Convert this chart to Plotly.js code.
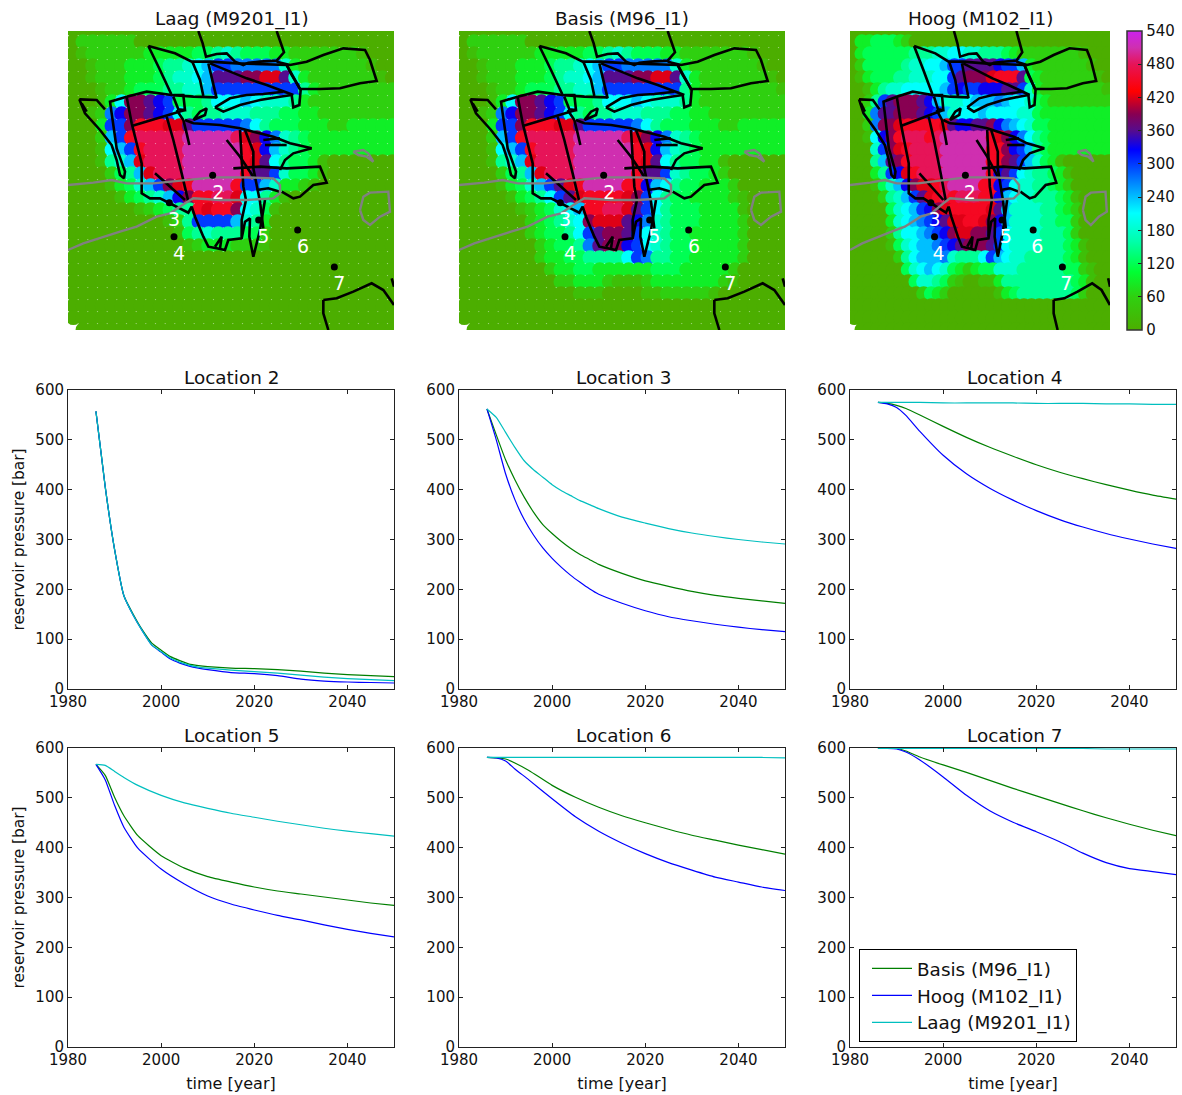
<!DOCTYPE html>
<html>
<head>
<meta charset="utf-8">
<script src="https://cdn.plot.ly/plotly-3.0.1.min.js"></script>
<style>html,body{margin:0;padding:0;background:#fff}</style>
</head>
<body>
<div id="chart" style="width:1182px;height:1095px"></div>
<script>
// ---------- map data: one character per cell, value = digit (base 36) * pressureStep bar ----------
const pressureStep = 30;
const gridCols = [40,69,98,127,156,185,214,243,272,301,330,359,388,417,446,475,504,533,562,591,620,649,678,707,736,765,794,823,852,881,910,939,968,997];
const gridRows = [29,65,101,137,173,209,245,281,317,353,389,425,461,497,533,569,605,641,677,713,749,785,821,857,893,929];

const pressureLaag = [
"0000000000000000000000000000000000",
"0222222000000000000000000000000000",
"0122222233333445654443322222221000",
"0012223334556 78aa9999963222222 2100".split(" ").join(""),
"0012223334566 78cccddeec6322222 2210".split(" ").join(""),
"0001223444556 68aaaaaaaaa5322222 2221".split(" ").join(""),
"000137ddcba444577787666532 22222222".split(" ").join(""),
"00129bddcba75455666555 44332222 2222".split(" ").join(""),
"0003aadfffeecaaaaa97 5444333223 3333".split(" ").join(""),
"00028afggggghhhhhged b965433333 3333".split(" ").join(""),
"000178afgggghhhhhhfe b865433333 3333".split(" ").join(""),
"0001568egggghhhhhhfe c754431000 0000".split(" ").join(""),
"00002458eggghhhhhhfc ca64431000 0000".split(" ").join(""),
"000013468adefhhhhfaa 8633210000 0000".split(" ").join(""),
"00000134568bdffgge77 5310000000 0000".split(" ").join(""),
"0000000123455feffd76 4100000000 0000".split(" ").join(""),
"0000000000125aaaa865 3000000000 0000".split(" ").join(""),
"00000000000145655544 2000000000 0000".split(" ").join(""),
"00000000000012333222 1000000000 0000".split(" ").join(""),
"0000000000000000000000000000000000",
"0000000000000000000000000000000000",
"0000000000000000000000000000000000",
"0000000000000000000000000000000000",
"0000000000000000000000000000000000",
"0000000000000000000000000000000000",
".000000000000000000000000000000000"
];

const pressureBasis = [
"0000000000000000000000000000000000",
"0222222000000000000000000000000000",
"0122222233333445654443322222221000",
"001222333455678aa999 9963222222 2100".split(" ").join(""),
"001222333456678cccdd eec6322222 2210".split(" ").join(""),
"000122344455668aaaaa aaa5322222 2221".split(" ").join(""),
"000137ddcba444577787 6665322222 2222".split(" ").join(""),
"00129bddcba754556665 5544332222 2222".split(" ").join(""),
"0003aadfffeecaaaaa97 5444333223 3333".split(" ").join(""),
"00028afggggghhhhhged b965433333 3333".split(" ").join(""),
"000178afgggghhhhhhfe b865433333 3333".split(" ").join(""),
"0001568egggghhhhhhfe c754433100 0000".split(" ").join(""),
"00002458eggghhhhhhfc ca65443200 0000".split(" ").join(""),
"000013468acefhhhhffb 8754433320 0000".split(" ").join(""),
"0000013457aceffffeda 7544333321 0000".split(" ").join(""),
"0000001234678ffggeca 7544433331 0000".split(" ").join(""),
"0000000234567deeecb9 6544433332 0000".split(" ").join(""),
"0000000234457acddca7 6544333332 0000".split(" ").join(""),
"00000000234459cddba7 6544333332 0000".split(" ").join(""),
"000000002334455557a9 5544333332 0000".split(" ").join(""),
"00000000023344333333 4443333320 0000".split(" ").join(""),
"00000000002233321112 3333333210 0000".split(" ").join(""),
"00000000000011100001 1222221000 0000".split(" ").join(""),
"0000000000000000000000000000000000",
"0000000000000000000000000000000000",
".000000000000000000000000000000000"
];

const pressureHoog = [
"0000000000000000000000000000000000",
"0334443200000000000000000000000000",
"03444444555667766555 4322222222 1000".split(" ").join(""),
"0244444566778aaccccb aa83222222 2100".split(" ").join(""),
"0134445566677acdddef ffc4322222 2210".split(" ").join(""),
"0013566777778abaabbb cca6322222 2221".split(" ").join(""),
"0025acdddcb866678889 8776432222 2222".split(" ").join(""),
"0039ccdddcba86777877 7766433333 3333".split(" ").join(""),
"0029ddefffffecbbccdb 9876443333 3333".split(" ").join(""),
"0017bdfgggfghhhhhhfe db97543333 3333".split(" ").join(""),
"0006adefgggghhhhhhff dba8543333 3333".split(" ").join(""),
"00058cdfgggghhhhhhff dca8643100 0000".split(" ").join(""),
"00035abefggghhhhhhfb ca76554310 0000".split(" ").join(""),
"0001468bdeefghhhhffb a766554320 0000".split(" ").join(""),
"00002568acefgfgggffb 8766555431 0000".split(" ").join(""),
"000004678abdefffffec 8666655432 0000".split(" ").join(""),
"0000036789abceeffedb 8666655442 0000".split(" ").join(""),
"00000257789abdeeddca 7666655542 0000".split(" ").join(""),
"000001467889abcdddca 7666655543 1000".split(" ").join(""),
"000000257888965557a8 7665555543 1000".split(" ").join(""),
"00000004678764323446 6655555544 2100".split(" ").join(""),
"00000000466542100113 5555555554 3100".split(" ").join(""),
"00000000024320000001 3455555554 2000".split(" ").join(""),
"0000000000000000000000000000000000",
"0000000000000000000000000000000000",
".000000000000000000000000000000000"
];

const colorStops = [
[0,'#4cae00'],[60,'#2fd010'],[105,'#00ff33'],[160,'#00ffaa'],[211,'#00ffff'],[265,'#0088ff'],
[326,'#0000ff'],[360,'#560c8e'],[390,'#880052'],[431,'#ff0000'],[480,'#e61458'],[510,'#cf2fb0'],[540,'#cc22ee']];
const colorbarTicks = [0,60,120,180,240,300,360,420,480,540];

// ---------- map outlines (map coordinates) ----------
const faultLines = [
[[415,33],[428,70],[438,110],[470,102],[500,100],[525,125],[550,135],[565,128],[600,125],[650,122],[672,97],[660,65],[650,33]],
[[650,125],[690,135],[740,125],[790,105],[850,85],[915,90],[930,120],[950,183],[900,190],[840,205],[780,207],[720,207],[695,165],[680,135]],
[[265,78],[345,100],[395,125],[450,125],[530,130],[680,135]],
[[265,78],[275,100],[300,150],[335,225],[400,230],[470,232]],
[[397,125],[420,180],[430,228]],
[[445,130],[460,190],[470,235]],
[[450,130],[560,175],[620,195],[700,225]],
[[680,135],[722,210],[718,255],[700,262],[695,225]],
[[465,262],[510,235],[560,225],[610,222],[670,215]],
[[465,262],[490,275],[540,255],[600,240],[660,230],[695,225]],
[[400,300],[420,275],[440,265],[435,285],[400,300]],
[[58,238],[110,240],[135,268]],
[[58,238],[75,280],[120,330],[155,375],[170,420],[180,465],[192,475],[195,455],[170,385],[150,245],[200,230],[260,215],[335,225]],
[[65,250],[80,275]],
[[200,230],[215,310],[235,390],[245,430],[245,520],[270,535],[300,535],[330,550],[360,565],[385,578],[395,560],[405,590],[430,650],[445,680],[470,685],[495,690],[505,660],[545,655],[555,605],[570,595],[568,650],[580,710],[600,630],[615,540]],
[[215,318],[290,295],[375,270]],
[[340,225],[370,225],[375,270],[355,268],[340,230]],
[[320,290],[340,360],[365,460],[385,545]],
[[350,270],[370,300],[380,340],[388,375]],
[[285,460],[330,500],[375,540]],
[[375,300],[400,310],[480,315],[540,325],[580,335],[640,350],[690,370],[755,385]],
[[610,360],[660,355]],
[[615,375],[680,375]],
[[755,385],[700,400],[675,420],[660,450]],
[[540,330],[545,420],[550,500],[558,540],[545,600],[545,650]],
[[500,360],[540,410],[580,470]],
[[555,330],[580,395],[580,445],[600,545],[610,625]],
[[520,445],[600,440],[680,445],[780,440],[800,488],[760,495],[720,530],[700,535],[665,515]],
[[590,510],[625,505],[660,515]],
[[465,680],[485,650],[480,685]],
[[790,840],[790,880],[805,930]],
[[790,840],[830,835],[880,815],[935,790],[970,810],[1002,855]],
[[995,775],[1002,800]]
];
const pipelines = [
[[24,495],[100,488],[155,480],[200,490],[280,490],[370,480],[460,472],[560,472],[640,475],[660,495],[660,520],[640,535],[560,540],[480,540],[400,535],[375,550],[330,580],[290,590],[230,620],[180,635],[120,655],[70,670],[24,690]],
[[880,395],[910,390],[925,400],[940,425],[920,410],[895,405],[880,395]],
[[900,570],[910,530],[930,518],[985,515],[990,575],[960,590],[930,615],[910,600],[900,570]]
];
const locationNames = ['2','3','4','5','6','7'];
const locationX = [458,328,342,596,713,823];
const locationY = [466,548,650,600,630,741];
const labelX = [475,342,357,610,729,838];
const labelY = [523,603,705,655,685,795];

// ---------- time series ----------
const yearsDense = [1986,1988,1990,1992,1994,1996,1998,2000,2002,2004,2006,2008,2010,2015,2020,2025,2030,2035,2040,2045,2050];
const yearsCoarse = [1986,1988,1990,1992,1995,2000,2005,2010,2015,2020,2025,2030,2035,2040,2045,2050];

const loc2Basis = [557,405,280,187,150,118,92,78,65,57,50,47,45,42,41,39,36,32,29,27,25];
const loc2Hoog  = [557,405,280,187,148,116,88,74,60,52,46,42,39,33,31,27,20,16,14,13,12];
const loc2Laag  = [557,405,280,187,148,116,88,75,62,54,48,44,42,38,35,32,28,24,21,19,17];

const loc3Basis = [562,510,460,420,385,355,330,312,296,282,270,260,250,232,217,206,196,188,182,177,172];
const loc3Hoog  = [562,500,432,380,340,309,283,262,244,228,214,201,190,172,157,145,137,130,124,119,115];
const loc3Laag  = [562,545,515,485,458,440,425,410,398,388,378,370,362,345,333,322,313,306,300,295,291];

const loc4Basis = [575,573,569,563,550,527,505,485,467,450,435,422,410,399,389,381];
const loc4Hoog  = [575,572,565,549,517,469,432,403,379,358,340,325,312,301,291,282];
const loc4Laag  = [575,575,575,575,575,574,574,574,574,573,573,573,572,572,571,571];

const loc5Basis = [567,545,501,464,424,384,359,342,331,321,313,307,301,295,289,284];
const loc5Hoog  = [567,536,485,441,399,357,327,303,287,275,264,255,245,236,228,221];
const loc5Laag  = [567,565,553,541,525,505,490,479,469,461,453,446,439,433,428,423];

const loc6Basis = [581,580,578,570,555,525,501,481,464,450,437,425,415,405,396,387];
const loc6Hoog  = [581,580,574,558,536,498,462,433,409,388,370,355,341,331,321,314];
const loc6Laag  = [581,581,581,581,581,581,581,581,581,581,581,581,581,581,581,580];

const loc7Basis = [599,599,599,594,582,566,551,535,519,504,489,474,460,447,435,424];
const loc7Hoog  = [599,599,598,592,576,542,505,474,451,432,412,389,370,358,352,346];
const loc7Laag  = [599,599,599,599,599,599,599,599,599,599,599,599,598,598,598,598];

const seriesNames = ['Basis (M96_I1)','Hoog (M102_I1)','Laag (M9201_I1)'];
const seriesColors = ['#007f00','#0000ff','#00bfbf'];
const mapTitles = ['Laag (M9201_I1)','Basis (M96_I1)','Hoog (M102_I1)'];
const lineTitles = ['Location 2','Location 3','Location 4','Location 5','Location 6','Location 7'];

// ---------- build ----------
const W = 1182, H = 1095;
const FONT = '"DejaVu Sans", sans-serif';
const dx = (a, b) => [a / W, b / W];
const dy = (top, bottom) => [1 - bottom / H, 1 - top / H];

const scale = colorStops.map(s => [s[0] / 540, s[1]]);
function joinPaths(paths) {
  const x = [], y = [];
  paths.forEach(p => { p.forEach(q => { x.push(q[0]); y.push(q[1]); }); x.push(null); y.push(null); });
  return {x, y};
}
const traces = [];
const layout = {
  width: W, height: H, autosize: false, margin: {l: 0, r: 0, t: 0, b: 0},
  paper_bgcolor: '#fff', plot_bgcolor: 'rgba(0,0,0,0)', font: {family: FONT, size: 15, color: '#000'},
  annotations: [], showlegend: true,
  legend: {x: 859 / W, y: 1 - 949 / H, xanchor: 'left', yanchor: 'top', bgcolor: '#fff', bordercolor: '#000', borderwidth: 1,
           font: {family: FONT, size: 18.4, color: '#111'}, itemwidth: 40, indentation: 7, tracegroupgap: 0, traceorder: 'normal'}
};
const mapDomains = [dx(68, 394), dx(459, 785), dx(850, 1110)];
[pressureLaag, pressureBasis, pressureHoog].forEach((grid, m) => {
  const id = m + 1, ax = 'x' + id, ay = 'y' + id;
  layout['xaxis' + id] = {domain: mapDomains[m], range: [24, 1002], visible: false, fixedrange: true, anchor: ay};
  layout['yaxis' + id] = {domain: dy(31, 330), range: [930, 33], visible: false, fixedrange: true, anchor: ax};
  const xs = [], ys = [], cs = [];
  grid.forEach((row, k) => {
    gridCols.forEach((cx, i) => {
      const ch = row[i] === undefined ? '0' : row[i];
      if (ch === '.') return;
      xs.push(cx); ys.push(gridRows[k]); cs.push(parseInt(ch, 36) * pressureStep);
    });
  });
  const marker = {size: 14.9, color: cs, cmin: 0, cmax: 540, colorscale: scale, line: {width: 0}, showscale: m === 2};
  if (m === 2) marker.colorbar = {
    x: 1127 / W, xanchor: 'left', xpad: 0, y: 1 - 31 / H, yanchor: 'top', ypad: 0, len: 299 / H, lenmode: 'fraction',
    thickness: 15, thicknessmode: 'pixels', outlinewidth: 1.5, outlinecolor: '#333', tickmode: 'array', tickvals: colorbarTicks,
    ticktext: colorbarTicks.map(String), ticks: 'inside', ticklen: 4, tickcolor: '#222', tickfont: {family: FONT, size: 15, color: '#111'}
  };
  traces.push({type: 'scatter', mode: 'markers', x: xs, y: ys, xaxis: ax, yaxis: ay, marker, showlegend: false, hoverinfo: 'skip'});
  const faults = joinPaths(faultLines);
  traces.push({type: 'scatter', mode: 'lines', x: faults.x, y: faults.y, xaxis: ax, yaxis: ay, line: {color: '#000', width: 2.6}, showlegend: false, hoverinfo: 'skip'});
  const pipes = joinPaths(pipelines);
  traces.push({type: 'scatter', mode: 'lines', x: pipes.x, y: pipes.y, xaxis: ax, yaxis: ay, line: {color: '#808080', width: 2.4}, showlegend: false, hoverinfo: 'skip'});
  traces.push({type: 'scatter', mode: 'markers', x: locationX, y: locationY, xaxis: ax, yaxis: ay, marker: {color: '#000', size: 7}, showlegend: false, hoverinfo: 'skip'});
  traces.push({type: 'scatter', mode: 'text', x: labelX, y: labelY, text: locationNames, xaxis: ax, yaxis: ay, textposition: 'middle center',
    textfont: {family: FONT, size: 19, color: '#fff'}, showlegend: false, hoverinfo: 'skip'});
  layout.annotations.push({text: mapTitles[m], xref: 'paper', yref: 'paper', x: [232, 622, 981][m] / W, y: 1 - 32 / H, xanchor: 'center', yanchor: 'bottom', showarrow: false, font: {family: FONT, size: 18.4, color: '#111'}});
});

const lineSets = [
  [yearsDense, loc2Basis, loc2Hoog, loc2Laag],
  [yearsDense, loc3Basis, loc3Hoog, loc3Laag],
  [yearsCoarse, loc4Basis, loc4Hoog, loc4Laag],
  [yearsCoarse, loc5Basis, loc5Hoog, loc5Laag],
  [yearsCoarse, loc6Basis, loc6Hoog, loc6Laag],
  [yearsCoarse, loc7Basis, loc7Hoog, loc7Laag]
];
const colX = [dx(68, 394), dx(459, 785), dx(850, 1176)];
const rowY = [dy(390, 689), dy(748, 1047)];
lineSets.forEach((set, n) => {
  const id = n + 4, c = n % 3, r = Math.floor(n / 3);
  const axisBase = {showgrid: false, zeroline: false, showline: true, linecolor: '#222', linewidth: 1, mirror: 'allticks', ticks: 'inside', ticklen: 4, tickcolor: '#222',
    tickfont: {family: FONT, size: 15, color: '#111'}, fixedrange: true};
  layout['xaxis' + id] = Object.assign({}, axisBase, {domain: colX[c], range: [1980, 2050], tickmode: 'array', tickvals: [1980,2000,2020,2040], anchor: 'y' + id, ticklabelstandoff: -1,
    title: r === 1 ? {text: 'time [year]', font: {family: FONT, size: 16, color: '#111'}, standoff: 9} : undefined});
  layout['yaxis' + id] = Object.assign({}, axisBase, {domain: rowY[r], range: [0, 600], tickmode: 'array', tickvals: [0,100,200,300,400,500,600], anchor: 'x' + id,
    title: c === 0 ? {text: 'reservoir pressure [bar]', font: {family: FONT, size: 15.4, color: '#111'}, standoff: 6} : undefined, automargin: false});
  [1, 2, 3].forEach(s => {
    traces.push({type: 'scatter', mode: 'lines', name: seriesNames[s - 1], x: set[0], y: set[s], xaxis: 'x' + id, yaxis: 'y' + id,
      line: {color: seriesColors[s - 1], width: 1.2, shape: 'spline', smoothing: 0.5}, showlegend: n === 5, hoverinfo: 'skip'});
  });
  layout.annotations.push({text: lineTitles[n], xref: 'paper', yref: 'paper', x: [232, 623, 1014][c] / W, y: 1 - [390, 748][r] / H, xanchor: 'center', yanchor: 'bottom', showarrow: false, font: {family: FONT, size: 18.4, color: '#111'}});
});
Plotly.newPlot('chart', traces, layout, {displayModeBar: false, staticPlot: true});
</script>
</body>
</html>
